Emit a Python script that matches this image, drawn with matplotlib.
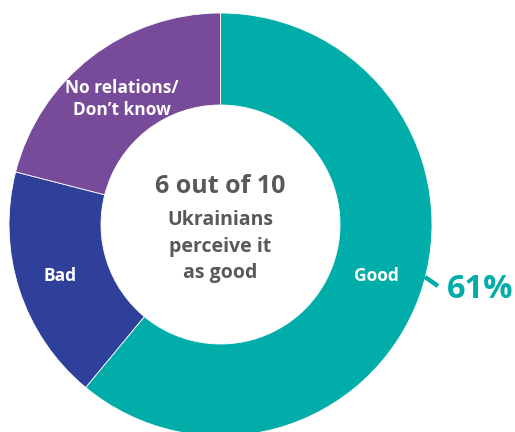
import matplotlib
matplotlib.use("Agg")
import matplotlib.pyplot as plt

# data
labels = ["Good", "Bad", "No relations/\nDon\u2019t know"]
values = [61, 18, 21]
colors = ["#00ADA9", "#2E4099", "#774A9A"]
pct_label = "61%"
center_lines = ["6 out of 10", "Ukrainians", "perceive it", "as good"]

W, H = 515, 432
fig = plt.figure(figsize=(W / 100, H / 100), dpi=100)
ax = fig.add_axes([0, 0, 1, 1])

def Y(y):
    # image row -> data y
    return H - y

cx, cy, r_out, r_in = 220.5, Y(224.5), 211.5, 119.5

ax.pie(values, colors=colors, startangle=90, counterclock=False,
       center=(cx, cy), radius=r_out, frame=True,
       wedgeprops=dict(width=r_out - r_in, edgecolor="white", linewidth=0.6))
ax.set_xlim(0, W)
ax.set_ylim(0, H)
ax.axis("off")

font = "Open Sans"
gray = "#595959"

# slice labels
ax.text(376, Y(281), labels[0], color="white", fontsize=12.5, fontweight="bold",
        family=font, ha="center", va="baseline")
ax.text(60, Y(281), labels[1], color="white", fontsize=12.5, fontweight="bold",
        family=font, ha="center", va="baseline")
ax.text(122, Y(99), labels[2], color="white", fontsize=12.5, fontweight="bold",
        family=font, ha="center", va="center", linespacing=1.3)

# percentage with leader
ax.plot([425, 438], [Y(277), Y(286)], color=colors[0], lw=3.2, solid_capstyle="butt")
ax.text(480, Y(298), pct_label, color=colors[0], fontsize=23.5, fontweight="bold",
        family=font, ha="center", va="baseline")

# centre text
sizes = [18, 14, 14, 14]
baselines = [193, 225, 252, 278]
for line, s, b in zip(center_lines, sizes, baselines):
    ax.text(cx, Y(b), line, color=gray, fontsize=s, fontweight="bold",
            family=font, ha="center", va="baseline")

fig.savefig("out.png", dpi=100)
